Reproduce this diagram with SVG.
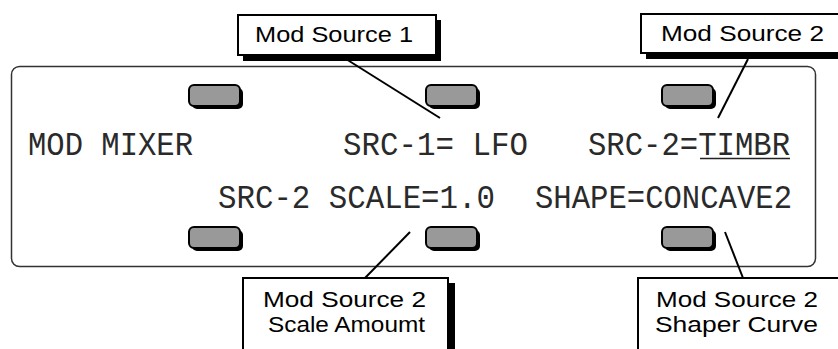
<svg xmlns="http://www.w3.org/2000/svg" width="838" height="349" viewBox="0 0 838 349">
<style>
.lcd{font-family:"Liberation Mono","DejaVu Sans Mono",monospace;font-size:34px;fill:#2a2a2a}
.lbl{font-family:"Liberation Sans",Arial,sans-serif;font-size:22px;fill:#000}
.box{fill:#fff;stroke:#000;stroke-width:2}
.shd{fill:#000}
.btn{fill:#999;stroke:#000;stroke-width:2}
.bsh{fill:#000}
.con{stroke:#000;stroke-width:2;fill:none}
</style>
<defs>
<g id="button">
<rect class="bsh" x="3" y="3" width="51" height="21" rx="5"/>
<rect class="btn" x="0" y="0" width="51" height="21" rx="5"/>
</g>
</defs>
<rect width="838" height="349" fill="#fff"/>
<g id="display">
<rect x="11.5" y="66.5" width="804" height="200" rx="8" fill="none" stroke="#333" stroke-width="1.5"/>
<use href="#button" x="189" y="85"/>
<use href="#button" x="426" y="85"/>
<use href="#button" x="662" y="85"/>
<use href="#button" x="189" y="227"/>
<use href="#button" x="426" y="227"/>
<use href="#button" x="662" y="227"/>
<text class="lcd" x="28" y="155" textLength="165" lengthAdjust="spacingAndGlyphs">MOD MIXER</text>
<text class="lcd" x="343" y="155" textLength="185" lengthAdjust="spacingAndGlyphs">SRC-1= LFO</text>
<text class="lcd" x="588" y="155" textLength="202" lengthAdjust="spacingAndGlyphs">SRC-2=TIMBR</text>
<line x1="700" y1="158.5" x2="790" y2="158.5" stroke="#222" stroke-width="1.5"/>
<text class="lcd" x="218" y="208" textLength="277" lengthAdjust="spacingAndGlyphs">SRC-2 SCALE=1.0</text>
<text class="lcd" x="535" y="208" textLength="257" lengthAdjust="spacingAndGlyphs">SHAPE=CONCAVE2</text>
</g>
<g id="connectors">
<line class="con" x1="346" y1="59" x2="440" y2="118"/>
<line class="con" x1="748" y1="59" x2="718" y2="118"/>
<line class="con" x1="410" y1="232" x2="365" y2="278"/>
<line class="con" x1="725" y1="232" x2="743" y2="278"/>
</g>
<g id="label-mod-source-1">
<rect class="shd" x="243" y="20" width="198" height="41"/>
<rect class="box" x="238" y="15" width="198" height="40"/>
<text class="lbl" x="255" y="42" textLength="158" lengthAdjust="spacingAndGlyphs">Mod Source 1</text>
</g>
<g id="label-mod-source-2">
<rect class="shd" x="646" y="19" width="200" height="40"/>
<rect class="box" x="641" y="14" width="200" height="39"/>
<text class="lbl" x="661" y="41" textLength="163" lengthAdjust="spacingAndGlyphs">Mod Source 2</text>
</g>
<g id="label-scale-amount">
<rect class="shd" x="248" y="283" width="207" height="80"/>
<rect class="box" x="243" y="278" width="205" height="80"/>
<text class="lbl" x="263" y="307" textLength="163" lengthAdjust="spacingAndGlyphs">Mod Source 2</text>
<text class="lbl" x="268" y="332" textLength="157" lengthAdjust="spacingAndGlyphs">Scale Amoumt</text>
</g>
<g id="label-shaper-curve">
<rect class="box" x="638" y="278" width="210" height="80"/>
<text class="lbl" x="656" y="307" textLength="162" lengthAdjust="spacingAndGlyphs">Mod Source 2</text>
<text class="lbl" x="655" y="332" textLength="163" lengthAdjust="spacingAndGlyphs">Shaper Curve</text>
</g>
</svg>
